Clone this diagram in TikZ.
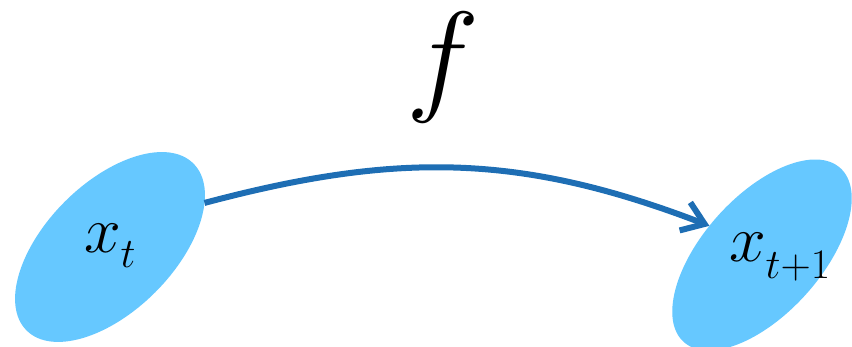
\RequirePackage{fix-cm}
\documentclass[tikz,border=0pt]{standalone}
\usetikzlibrary{shapes.geometric,arrows.meta}
\definecolor{blobfill}{RGB}{102,200,255}
\definecolor{arrowblue}{RGB}{30,110,180}
\tikzset{
  blob/.style={ellipse, fill=blobfill, draw=none, inner sep=0pt, outer sep=0pt},
  flowarrow/.style={draw=arrowblue, line width=6pt,
    -{Straight Barb[length=21pt,width=30pt,line width=6pt]}},
  lbl/.style={inner sep=0pt, outer sep=0pt, anchor=base west}
}
\newcommand{\mainsz}{\fontsize{66}{66}\selectfont}
\newcommand{\subsz}{\fontsize{42}{42}\selectfont}
\begin{document}
\begin{tikzpicture}[x=1pt,y=1pt]
\useasboundingbox (0,0) rectangle (852,347);
\node[blob, minimum width=236pt, minimum height=128pt, rotate=45] (a) at (110,100) {};
\node[blob, minimum width=234pt, minimum height=118pt, rotate=48] (b) at (762,92) {};
\node[lbl] (la) at (84,94) {\mainsz$x$\raisebox{-15pt}{\subsz$t$}};
\node[lbl] (lb) at (729,85) {\mainsz$x$\raisebox{-17pt}{\subsz$t{+}1$}};
\node[inner sep=0pt] (f) at (443,279) {\fontsize{124}{124}\selectfont$f$};
\draw[flowarrow] (a.-20) .. controls (396,195) and (520,194) .. (b.103);
\end{tikzpicture}
\end{document}
